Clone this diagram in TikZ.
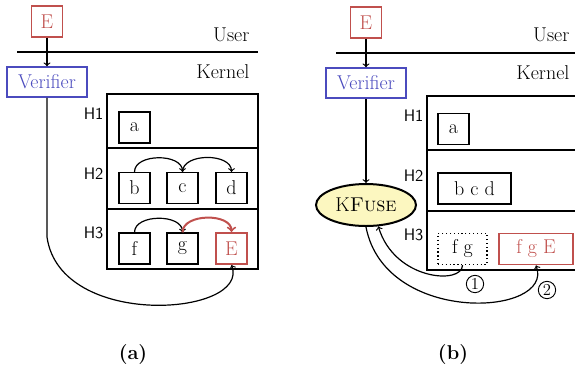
\documentclass[tikz,border=0pt]{standalone}
\usepackage{tikz}
\usetikzlibrary{shapes.geometric}

\definecolor{erred}{RGB}{192,80,77}
\definecolor{verblue}{RGB}{75,75,190}
\definecolor{fuseyellow}{RGB}{252,247,192}

\tikzset{every picture/.style={line width=0.9pt}}
\tikzset{
  txt/.style={inner sep=0.75pt, font=\fontsize{15}{18}\selectfont},
  hlabel/.style={inner sep=0.75pt, anchor=east, font=\fontsize{12.5}{14}\selectfont\sffamily},
  cell/.style={draw, txt, minimum width=23.25pt, minimum height=23.25pt},
  redcell/.style={cell, draw=erred, text=erred},
  verbox/.style={draw=verblue, text=verblue, txt, line width=1.2pt, minimum width=60pt, minimum height=22.5pt},
  fuse/.style={ellipse, draw, line width=1.5pt, fill=fuseyellow, txt, minimum width=75pt, minimum height=31.5pt},
  num/.style={circle, draw, line width=0.7pt, inner sep=0pt, minimum size=13pt, font=\fontsize{12.5}{13}\selectfont},
  subcap/.style={inner sep=0.75pt, font=\fontsize{15}{18}\selectfont\bfseries}
}

\begin{document}
\begin{tikzpicture}[x=0.75pt,y=0.75pt,yscale=-1,xscale=1]
\useasboundingbox (0,0) rectangle (575,376);

%%%%%%%%%% (a) %%%%%%%%%%
%Shape: Line [User / Kernel]
\draw (17,52) -- (258,52);
%Shape: Rectangle [rows H1 H2 H3]
\draw (107,94) rectangle (258,148);
\draw (107,148) rectangle (258,209);
\draw (107,209) rectangle (258,269);

% Text Node
\node [txt, anchor=east] (usera) at (251,35) {User};
\node [txt, anchor=east] (kernela) at (251,72) {Kernel};
\node [hlabel] (hia) at (105,114) {H1};
\node [hlabel] (hiia) at (105,174) {H2};
\node [hlabel] (hiiia) at (105,233) {H3};

% Boxes
\node [redcell, line width=1.1pt] (ea) at (47,21.5) {E};
\node [verbox] (vera) at (47,82) {Verifier};
\node [cell] (aa) at (134.5,127.5) {a};
\node [cell] (ba) at (134.5,188) {b};
\node [cell] (ca) at (182.5,188) {c};
\node [cell] (da) at (231.5,188) {d};
\node [cell] (fa) at (134.5,248.5) {f};
\node [cell] (ga) at (182.5,248.5) {g};
\node [redcell, line width=1.6pt] (eea) at (231.5,248.5) {E};

% Arrows
\draw [->] (ea) -- (vera);
\draw [->] (ba.north) to [out=-90,in=-90] (ca.north);
\draw [->] (ca.north) to [out=-90,in=-90] (da.north);
\draw [->] (fa.north) to [out=-90,in=-90] (ga.north);
\draw [->, erred, line width=1.5pt] (ga.north) to [out=-90,in=-90] (eea.north);
\coordinate (benda) at (47,237);
\draw [->] (vera) -- (benda) .. controls +(13,93) and +(19,51) .. (eea.south);

\node [subcap] (capa) at (133,355) {(a)};

%%%%%%%%%% (b) %%%%%%%%%%
%Shape: Line [User / Kernel]
\draw (336,53) -- (580,53);
%Shape: Rectangle [rows H1 H2 H3]
\draw (427,96) rectangle (580,150);
\draw (427,150) rectangle (580,211);
\draw (427,211) rectangle (580,270);

% Text Node
\node [txt, anchor=east] (userb) at (571,35) {User};
\node [txt, anchor=east] (kernelb) at (571,73) {Kernel};
\node [hlabel] (hib) at (425,116) {H1};
\node [hlabel] (hiib) at (425,176) {H2};
\node [hlabel] (hiiib) at (425,235) {H3};

% Boxes
\node [redcell, line width=1.1pt] (eb) at (366,22.5) {E};
\node [verbox] (verb) at (366,83) {Verifier};
\node [cell] (ab) at (453.5,129) {a};
\node [cell, minimum width=54.75pt] (bcdb) at (474.5,188.5) {b c d};
\node [fuse] (kfb) at (366,205) {K\textsc{Fuse}};
\node [cell, dotted, minimum width=36.75pt] (fgb) at (462.5,249) {f g};
\node [redcell, line width=1.3pt, minimum width=55.5pt] (fgeb) at (536,249) {f g E};

% Arrows
\draw [->] (eb) -- (verb);
\draw [->] (verb) -- (kfb);
\draw [->] (fgb.south) .. controls +(0,20) and +(16,54) .. (kfb.-60);
\draw [->] (kfb.south) .. controls +(19,99) and +(19,51) .. (fgeb.south);
\node [num] (onec) at (475,284) {1};
\node [num] (twoc) at (547,290) {2};

\node [subcap] (capb) at (453,355) {(b)};

\end{tikzpicture}
\end{document}
